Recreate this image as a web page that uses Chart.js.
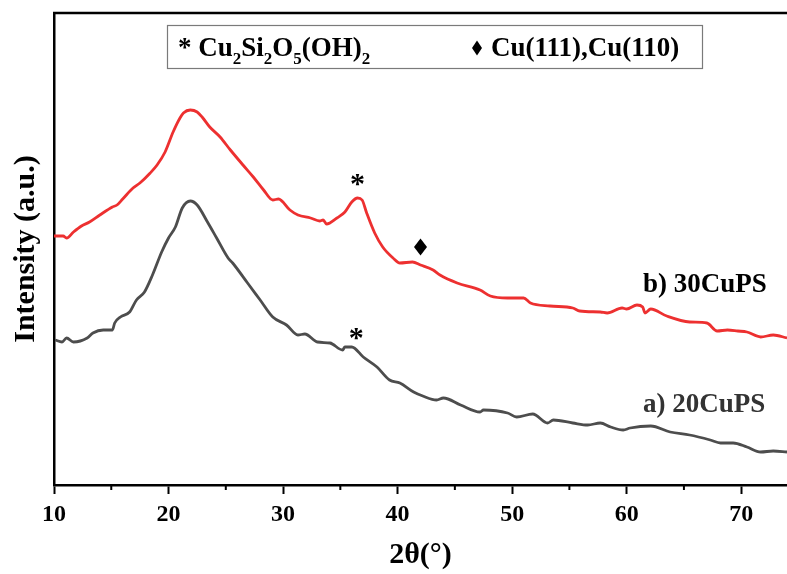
<!DOCTYPE html>
<html>
<head>
<meta charset="utf-8">
<script src="https://cdn.jsdelivr.net/npm/chart.js@4.4.0/dist/chart.umd.min.js"></script>
<style>
  html, body { margin: 0; padding: 0; background: #fff; }
  #xrdChart { display: block; }
</style>
</head>
<body>
<canvas id="xrdChart" width="787" height="574"></canvas>
<script>
// 2theta / intensity (a.u.)
const redTheta = [10.0, 10.8, 11.1, 11.7, 12.4, 13.1, 14.0, 15.1, 15.5, 16.0, 16.9, 17.5, 18.4, 19.0, 19.7, 20.4, 21.0, 21.3, 21.9, 22.5,
    23.0, 23.6, 24.5, 25.4, 26.5, 27.4, 28.3, 29.1, 29.6, 30.6, 31.3, 32.4, 33.2, 33.5, 33.8, 34.7, 35.4, 36.0, 36.5, 36.9,
    37.3, 38.0, 38.7, 39.6, 40.2, 41.3, 42.0, 43.1, 43.7, 45.2, 47.2, 48.1, 49.6, 51.0, 51.6, 53.3, 55.3, 55.9, 57.7, 58.3,
    59.6, 60.0, 60.9, 61.4, 61.6, 62.1, 63.5, 65.5, 67.0, 67.9, 68.8, 69.7, 70.5, 71.7, 72.8, 74.0];
const redIntensity = [249, 249, 247, 253, 259, 263, 270, 278, 280, 286, 297, 302, 312, 320, 333, 353, 367, 372, 375, 373,
    367, 358, 348, 335, 320, 308, 295, 285, 286, 275, 270, 267, 264, 265, 261, 267, 273, 283, 287, 285,
    272, 252, 238, 227, 222, 223, 220, 215, 210, 202, 195, 189, 187, 187, 182, 179, 177, 174, 173, 172,
    177, 176, 180, 178, 172, 176, 169, 163, 162, 154, 155, 154, 153, 148, 150, 147];

const grayTheta = [10.1, 10.7, 11.1, 11.7, 12.9, 13.4, 14.3, 15.1, 15.3, 15.8, 16.6, 17.2, 17.9, 18.6, 19.4, 20.0, 20.6, 21.2, 21.9, 22.5,
    23.4, 24.2, 25.2, 25.6, 26.9, 28.0, 29.1, 30.3, 31.3, 31.9, 33.0, 34.1, 35.2, 35.4, 36.0, 37.0, 38.2, 39.3, 40.2, 41.4,
    42.2, 43.4, 44.0, 45.5, 47.2, 47.5, 49.6, 50.4, 51.8, 53.1, 53.6, 55.3, 56.6, 57.7, 58.6, 59.7, 60.3, 62.1, 63.8, 65.5,
    67.3, 68.2, 69.3, 70.5, 71.7, 72.8, 74.0];
const grayIntensity = [145, 143, 147, 143, 147, 152, 155, 155, 162, 168, 173, 185, 193, 210, 233, 247, 258, 277, 284, 280,
    263, 247, 227, 222, 202, 185, 168, 160, 150, 151, 143, 142, 135, 138, 138, 128, 118, 105, 102, 93,
    89, 85, 87, 80, 73, 75, 72, 68, 71, 62, 65, 62, 60, 62, 58, 55, 57, 59, 53, 50,
    45, 42, 42, 38, 33, 34, 33];

const xTicks = [10, 20, 30, 40, 50, 60, 70];
const xMinorTicks = [15, 25, 35, 45, 55, 65];

// peak markers: [2theta, intensity, symbol]
const peakMarks = [
    [36.5, 306, '*'],
    [36.4, 152, '*'],
    [42.0, 238, 'diamond']
];

const serif = '"Liberation Serif", "Times New Roman", serif';

function toPoints(xs, ys) {
    return xs.map((x, i) => ({ x: x, y: ys[i] }));
}

// draw text with subscripts: parts = [[text, isSub], ...]
function drawRich(ctx, parts, x, y, size) {
    parts.forEach(([txt, sub]) => {
        ctx.font = 'bold ' + (sub ? Math.round(size * 0.62) : size) + 'px ' + serif;
        ctx.fillText(txt, x, sub ? y + size * 0.28 : y);
        x += ctx.measureText(txt).width;
    });
}

function diamond(ctx, cx, cy, w, h) {
    ctx.beginPath();
    ctx.moveTo(cx, cy - h / 2);
    ctx.lineTo(cx + w / 2, cy);
    ctx.lineTo(cx, cy + h / 2);
    ctx.lineTo(cx - w / 2, cy);
    ctx.closePath();
    ctx.fill();
}

const decorations = {
    id: 'decorations',
    afterDraw(chart) {
        const ctx = chart.ctx;
        const area = chart.chartArea;
        const xs = chart.scales.x;
        const ys = chart.scales.y;
        ctx.save();

        // top frame line
        ctx.strokeStyle = '#000';
        ctx.lineWidth = 2.5;
        ctx.beginPath();
        ctx.moveTo(area.left - 1, area.top);
        ctx.lineTo(area.right, area.top);
        ctx.stroke();

        // minor ticks
        ctx.lineWidth = 2;
        xMinorTicks.forEach(v => {
            const px = xs.getPixelForValue(v);
            ctx.beginPath();
            ctx.moveTo(px, area.bottom);
            ctx.lineTo(px, area.bottom + 5);
            ctx.stroke();
        });

        // legend box
        ctx.strokeStyle = '#7a7a7a';
        ctx.lineWidth = 1.2;
        ctx.strokeRect(167.5, 25.5, 535, 43);
        ctx.fillStyle = '#000';
        ctx.textAlign = 'left';
        ctx.textBaseline = 'alphabetic';
        drawRich(ctx, [['* Cu', false], ['2', true], ['Si', false], ['2', true], ['O', false], ['5', true], ['(OH)', false], ['2', true]], 178, 56, 27);
        diamond(ctx, 477, 48, 10, 15);
        drawRich(ctx, [['Cu(111),Cu(110)', false]], 491, 56, 27);

        // sample labels
        ctx.font = 'bold 27px ' + serif;
        ctx.fillStyle = '#000';
        ctx.fillText('b) 30CuPS', 643, 292);
        ctx.fillStyle = '#333';
        ctx.fillText('a) 20CuPS', 643, 412);

        // peak markers
        ctx.fillStyle = '#000';
        ctx.textAlign = 'center';
        peakMarks.forEach(([t, v, sym]) => {
            const px = xs.getPixelForValue(t);
            const py = ys.getPixelForValue(v);
            if (sym === 'diamond') {
                diamond(ctx, px, py, 13, 17);
            } else {
                ctx.font = 'bold 30px ' + serif;
                ctx.fillText(sym, px, py + 14);
            }
        });
        ctx.restore();
    }
};

new Chart(document.getElementById('xrdChart'), {
    type: 'line',
    data: {
        datasets: [{
            label: 'b) 30CuPS',
            data: toPoints(redTheta, redIntensity),
            borderColor: '#ED3030',
            borderWidth: 2.8,
            pointRadius: 0,
            cubicInterpolationMode: 'monotone',
            fill: false
        }, {
            label: 'a) 20CuPS',
            data: toPoints(grayTheta, grayIntensity),
            borderColor: '#4d4d4d',
            borderWidth: 2.8,
            pointRadius: 0,
            cubicInterpolationMode: 'monotone',
            fill: false
        }]
    },
    options: {
        responsive: false,
        animation: false,
        devicePixelRatio: 1,
        layout: { padding: { top: 13, right: 0, left: 0, bottom: 0 } },
        plugins: {
            legend: { display: false },
            tooltip: { enabled: false }
        },
        scales: {
            x: {
                type: 'linear',
                min: 10,
                max: 74,
                afterFit(scale) { scale.height = 89; },
                afterBuildTicks(scale) { scale.ticks = xTicks.map(v => ({ value: v })); },
                border: { display: true, color: '#000', width: 2.5 },
                grid: { drawOnChartArea: false, drawTicks: true, tickLength: 9, tickWidth: 2, tickColor: '#000' },
                ticks: {
                    color: '#000',
                    font: { family: serif, size: 24, weight: 'bold' },
                    padding: 6,
                    maxRotation: 0
                },
                title: {
                    display: true,
                    text: '2θ(°)',
                    color: '#000',
                    font: { family: serif, size: 30, weight: 'bold' },
                    padding: { top: 0, bottom: 1 }
                }
            },
            y: {
                type: 'linear',
                min: 0,
                max: 472,
                afterFit(scale) { scale.width = 54; },
                border: { display: true, color: '#000', width: 2.5 },
                grid: { display: false, drawTicks: false },
                ticks: { display: false },
                title: {
                    display: true,
                    text: 'Intensity (a.u.)',
                    color: '#000',
                    font: { family: serif, size: 30, weight: 'bold' },
                    padding: { top: 8, bottom: 0 }
                }
            }
        }
    },
    plugins: [decorations]
});
</script>
</body>
</html>
